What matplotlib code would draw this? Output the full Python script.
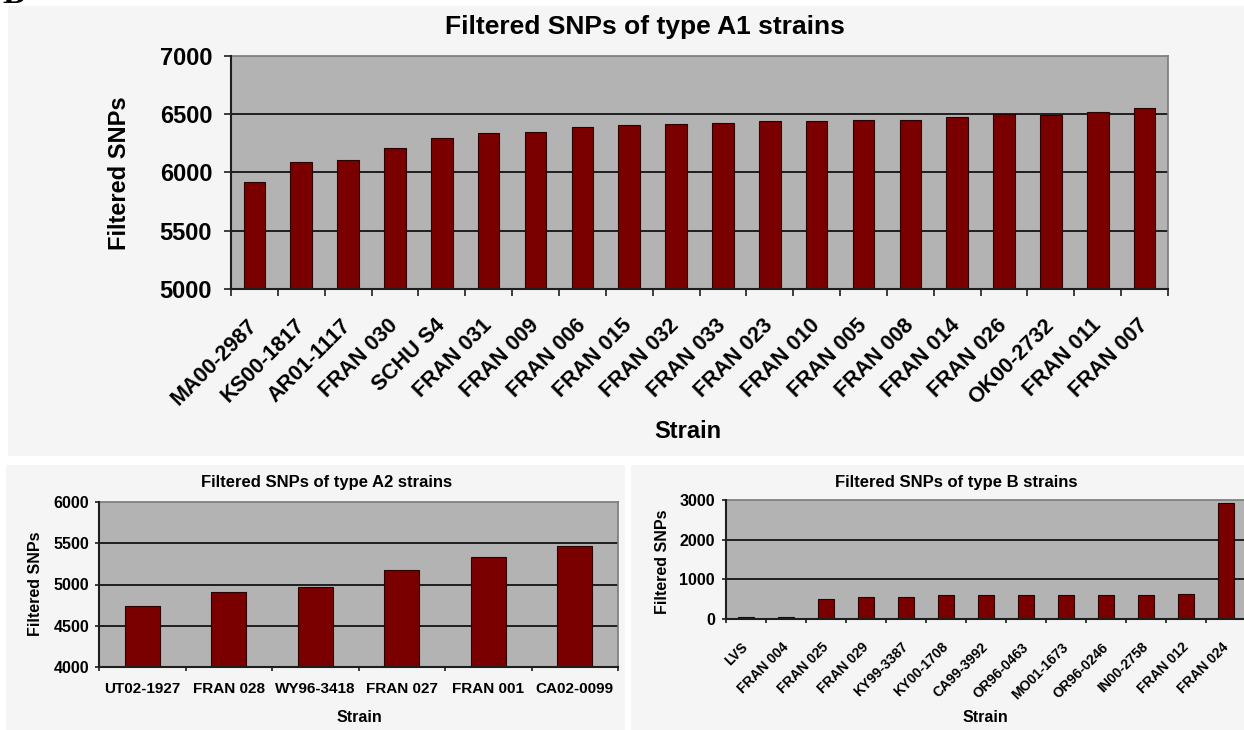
import numpy as np
import matplotlib.pyplot as plt
from matplotlib.patches import Rectangle

plt.rcParams['font.family'] = ['Liberation Sans', 'DejaVu Sans']
plt.rcParams['font.weight'] = 'bold'

W, H = 1244, 730

# values
a1_strains = ["MA00-2987", "KS00-1817", "AR01-1117", "FRAN 030", "SCHU S4",
              "FRAN 031", "FRAN 009", "FRAN 006", "FRAN 015", "FRAN 032",
              "FRAN 033", "FRAN 023", "FRAN 010", "FRAN 005", "FRAN 008",
              "FRAN 014", "FRAN 026", "OK00-2732", "FRAN 011", "FRAN 007"]
a1_snps = [5920, 6090, 6105, 6210, 6295, 6335, 6350, 6390, 6405, 6415,
           6425, 6445, 6445, 6450, 6450, 6478, 6500, 6495, 6522, 6550]

a2_strains = ["UT02-1927", "FRAN 028", "WY96-3418", "FRAN 027", "FRAN 001", "CA02-0099"]
a2_snps = [4745, 4910, 4965, 5180, 5330, 5465]

b_strains = ["LVS", "FRAN 004", "FRAN 025", "FRAN 029", "KY99-3387", "KY00-1708",
             "CA99-3992", "OR96-0463", "MO01-1673", "OR96-0246", "IN00-2758",
             "FRAN 012", "FRAN 024"]
b_snps = [60, 60, 515, 550, 550, 610, 610, 610, 610, 610, 610, 630, 2925]

BAR = '#7a0000'
EDGE = '#2a0000'
PLOT_BG = '#b3b3b3'
DARK = '#1e1e1e'


def ftxt(x, y, s, size, **kw):
    # place text using pixel coordinates of the 1244x730 picture
    fig.text(x / W, 1 - y / H, s, fontsize=size, fontweight='bold',
             ha='center', va='center', **kw)


def axes_px(x0, y0, x1, y1):
    ax = fig.add_axes([x0 / W, 1 - y1 / H, (x1 - x0) / W, (y1 - y0) / H])
    ax.set_zorder(2)
    return ax


def bar_panel(ax, names, values, ylim, step, width, tfs, xfs, tlen, ypad, xpad, rot):
    x = np.arange(len(names))
    ax.set_facecolor(PLOT_BG)
    yt = np.arange(ylim[0], ylim[1] + 1, step)
    for v in yt[1:-1]:
        ax.axhline(v, color=DARK, lw=1.4, zorder=1)
    ax.bar(x, values, width=width, color=BAR, edgecolor=EDGE, lw=0.8, zorder=3)
    ax.set_xlim(-0.5, len(names) - 0.5)
    ax.set_ylim(*ylim)
    ax.set_yticks(yt)
    ax.set_xticks(x)
    ax.set_xticklabels(names)
    ax.set_xticks(np.arange(len(names) + 1) - 0.5, minor=True)
    ax.tick_params(axis='x', which='major', length=0, pad=xpad, labelsize=xfs)
    ax.tick_params(axis='x', which='minor', length=tlen, width=1.2, color=DARK)
    ax.tick_params(axis='y', length=tlen, width=1.2, color=DARK, pad=ypad, labelsize=tfs)
    if rot:
        plt.setp(ax.get_xticklabels(), rotation=45, ha='right', va='center',
                 rotation_mode='anchor')
    else:
        plt.setp(ax.get_xticklabels(), va='center')
    for s in ['left', 'bottom']:
        ax.spines[s].set_color(DARK)
        ax.spines[s].set_linewidth(1.5)
        ax.spines[s].set_zorder(4)
    for s in ['top', 'right']:
        ax.spines[s].set_color('#7a7a7a')
        ax.spines[s].set_linewidth(1.2)


fig = plt.figure(figsize=(W / 100, H / 100), dpi=100, facecolor='white')

# light chart-area backgrounds
for (x0, y0, x1, y1) in [(8, 6, 1244, 456), (6, 465, 625, 730), (631, 465, 1244, 730)]:
    fig.patches.append(Rectangle((x0 / W, 1 - y1 / H), (x1 - x0) / W, (y1 - y0) / H,
                                 transform=fig.transFigure, facecolor='#f5f5f5',
                                 edgecolor='none', zorder=-1))

# panel letter, mostly cut off at the top edge (as in the reference)
fig.text(2 / W, 1 - 3 / H, "B", fontsize=24, fontweight='bold',
         family='Liberation Serif', ha='left', va='baseline')

# top chart: type A1
ax1 = axes_px(231, 56, 1168, 289)
bar_panel(ax1, a1_strains, a1_snps, (5000, 7000), 500, 0.46,
          17, 15.5, 5, 8.5, 24, True)
ftxt(645, 27, "Filtered SNPs of type A1 strains", 19)
ftxt(120, 173, "Filtered SNPs", 17, rotation=90)
ftxt(688, 432, "Strain", 17)

# bottom left: type A2
ax2 = axes_px(99, 502, 618, 667)
bar_panel(ax2, a2_strains, a2_snps, (4000, 6000), 500, 0.40,
          11.5, 11, 3, 4.2, 15.8, False)
ftxt(327, 482, "Filtered SNPs of type A2 strains", 12)
ftxt(36, 584, "Filtered SNPs", 11.5, rotation=90)
ftxt(359, 718, "Strain", 11.5)

# bottom right: type B
ax3 = axes_px(726, 500, 1246, 619)
bar_panel(ax3, b_strains, b_snps, (0, 3000), 1000, 0.42,
          11.5, 10, 3, 5, 18.7, True)
ftxt(956, 483, "Filtered SNPs of type B strains", 12)
ftxt(663, 562, "Filtered SNPs", 11.5, rotation=90)
ftxt(985, 717, "Strain", 11.5)

fig.savefig("out.png", dpi=100, facecolor=fig.get_facecolor())
